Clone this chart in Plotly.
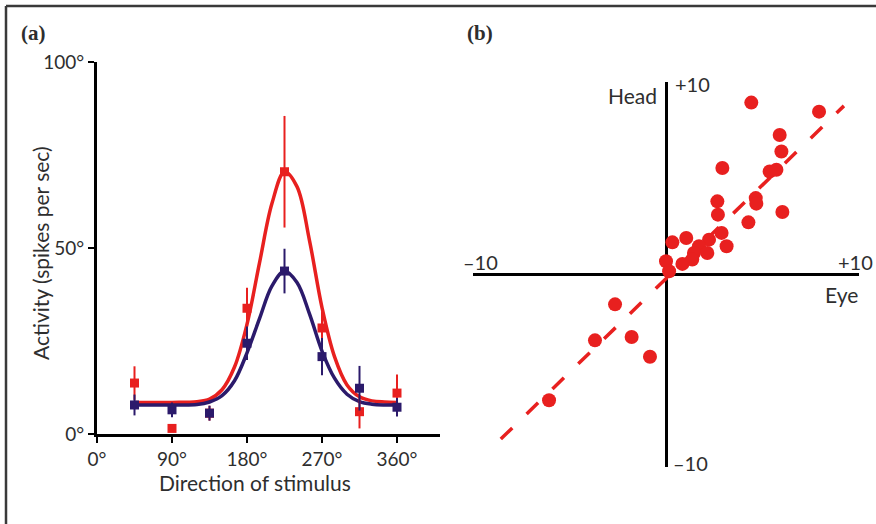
import plotly.graph_objects as go

W, H = 876, 524

# ---------------- Panel (a) data ----------------
directions = [45, 90, 135, 180, 225, 270, 315, 360]
red_activity = [13.7, 1.5, 5.6, 33.8, 70.5, 28.5, 6.0, 11.0]
red_err = [4.5, 0.0, 2.0, 5.5, 15.0, 4.5, 4.5, 5.0]
blue_activity = [7.8, 6.5, 5.6, 24.4, 43.8, 20.8, 12.3, 7.2]
blue_err = [2.8, 2.0, 2.0, 4.5, 6.0, 5.0, 6.0, 2.5]

curve_x = [45, 90, 120, 135, 150, 165, 180, 195, 210, 225, 240, 255, 270, 285, 300, 315, 330, 345, 360]
red_curve = [8.5, 8.5, 8.7, 9.4, 11.9, 18.0, 29.5, 46.0, 62.0, 70.5, 66.5, 52.0, 34.0, 20.8, 13.2, 10.0, 8.9, 8.6, 8.5]
blue_curve = [7.8, 7.8, 7.9, 8.6, 10.3, 14.3, 21.8, 31.0, 39.8, 43.8, 40.7, 32.3, 22.3, 15.0, 10.7, 8.7, 8.0, 7.8, 7.8]

x_ticks = [0, 90, 180, 270, 360]
x_ticktext = ["0°", "90°", "180°", "270°", "360°"]
y_ticks = [0, 50, 100]
y_ticktext = ["0°", "50°", "100°"]

# ---------------- Panel (b) data ----------------
eye = [4.42, 7.93, 5.89, 5.98, 5.37, 5.72, 2.92, 4.65, 4.68, 6.03, 2.66, 2.69, 4.27,
       2.88, 3.14, 0.33, 1.05, 2.23, 1.71, 2.14, 1.45, 1.36, 0.85, 0.00, 0.16,
       -2.64, -1.78, -0.83, -3.68, -6.06]
head = [8.93, 8.46, 7.25, 6.39, 5.35, 5.44, 5.53, 3.97, 3.68, 3.25, 3.80, 3.11, 2.71,
        2.16, 1.47, 1.67, 1.90, 1.81, 1.47, 1.12, 1.12, 0.78, 0.55, 0.69, 0.17,
        -1.55, -3.25, -4.27, -3.42, -6.53]
fit_eye = [-8.56, 9.22]
fit_head = [-8.55, 8.76]

RED = "#e8201f"
NAVY = "#2b1a6b"
TXT = "#2e2e2e"
FONT = "Lato"


def px_x(p):
    return p / W


def px_y(p):
    return 1 - p / H


fig = go.Figure()

fig.add_trace(go.Scatter(x=curve_x, y=red_curve, mode="lines", line=dict(color=RED, width=3.5, shape="spline"),
                         xaxis="x", yaxis="y", showlegend=False, hoverinfo="skip"))
fig.add_trace(go.Scatter(x=curve_x, y=blue_curve, mode="lines", line=dict(color=NAVY, width=3.5, shape="spline"),
                         xaxis="x", yaxis="y", showlegend=False, hoverinfo="skip"))
fig.add_trace(go.Scatter(x=directions, y=red_activity, mode="markers",
                         marker=dict(symbol="square", size=9, color=RED),
                         error_y=dict(type="data", array=red_err, color=RED, thickness=2, width=0),
                         xaxis="x", yaxis="y", showlegend=False, cliponaxis=False))
fig.add_trace(go.Scatter(x=directions, y=blue_activity, mode="markers",
                         marker=dict(symbol="square", size=9, color=NAVY),
                         error_y=dict(type="data", array=blue_err, color=NAVY, thickness=2, width=0),
                         xaxis="x", yaxis="y", showlegend=False, cliponaxis=False))

fig.add_trace(go.Scatter(x=fit_eye, y=fit_head, mode="lines",
                         line=dict(color=RED, width=3.5, dash="16px,20px"),
                         xaxis="x2", yaxis="y2", showlegend=False, hoverinfo="skip"))
fig.add_trace(go.Scatter(x=eye, y=head, mode="markers",
                         marker=dict(symbol="circle", size=14, color=RED),
                         xaxis="x2", yaxis="y2", showlegend=False, cliponaxis=False))

x0a, x1a = 97, 440
ya_top, ya_bot = 62, 434
xrange_max = 360 * (x1a - x0a) / (397 - 97)

TICKSZ = 19

fig.update_layout(
    template="none",
    width=W, height=H, autosize=False,
    margin=dict(l=0, r=0, t=0, b=0, pad=0),
    paper_bgcolor="white", plot_bgcolor="white",
    font=dict(family=FONT, color=TXT, size=TICKSZ),
    xaxis=dict(domain=[px_x(x0a), px_x(x1a)], range=[0, xrange_max], automargin=False,
               tickvals=x_ticks, ticktext=x_ticktext, ticks="outside", ticklen=6, tickwidth=2,
               tickcolor="black", showline=True, linecolor="black", linewidth=3,
               showgrid=False, zeroline=False, anchor="y", tickfont=dict(size=TICKSZ, color=TXT)),
    yaxis=dict(domain=[px_y(ya_bot), px_y(ya_top)], range=[0, 100], automargin=False,
               tickvals=y_ticks, ticktext=y_ticktext, ticks="outside", ticklen=6, tickwidth=2,
               tickcolor="black", showline=True, linecolor="black", linewidth=3,
               showgrid=False, zeroline=False, anchor="x", tickfont=dict(size=TICKSZ, color=TXT)),
    xaxis2=dict(domain=[px_x(473), px_x(859)], range=[-10, 10], showticklabels=False, automargin=False,
                showgrid=False, showline=False, zeroline=True, zerolinecolor="black", zerolinewidth=3,
                ticks="", anchor="y2"),
    yaxis2=dict(domain=[px_y(467), px_y(82)], range=[-10, 10], showticklabels=False, automargin=False,
                showgrid=False, showline=False, zeroline=True, zerolinecolor="black", zerolinewidth=3,
                ticks="", anchor="x2"),
)

ann = []


def label(text, x, y, size=20, family=FONT, xanchor="center"):
    ann.append(dict(text=text, x=px_x(x), y=px_y(y), xref="paper", yref="paper", showarrow=False,
                    xanchor=xanchor, yanchor="middle", font=dict(size=size, family=family, color=TXT)))


label("<b>(a)</b>", 33, 33, size=21, family="Liberation Serif")
label("<b>(b)</b>", 480, 33, size=21, family="Liberation Serif")
label("Direction of stimulus", 255, 482, size=21)
ann.append(dict(text="Activity (spikes per sec)", x=px_x(40), y=px_y(253), xref="paper", yref="paper",
                showarrow=False, textangle=-90, xanchor="center", yanchor="middle",
                font=dict(size=21, family=FONT, color=TXT)))
label("–10", 480, 262)
label("+10", 855, 262)
label("+10", 692, 84)
label("–10", 690, 463)
label("Head", 632, 95, size=21)
label("Eye", 841, 294, size=21)
fig.update_layout(annotations=ann)

fig.add_shape(type="line", xref="paper", yref="paper", x0=px_x(6), x1=1, y0=px_y(6), y1=px_y(6),
              line=dict(color="#3a3a3a", width=2.5))
fig.add_shape(type="line", xref="paper", yref="paper", x0=px_x(6), x1=px_x(6), y0=px_y(6), y1=0,
              line=dict(color="#3a3a3a", width=2.5))

fig.write_html("out.html", config={"responsive": False, "displayModeBar": False},
               post_script="document.body.style.margin='0';document.body.style.padding='0';"
                           "document.documentElement.style.overflow='hidden';")
